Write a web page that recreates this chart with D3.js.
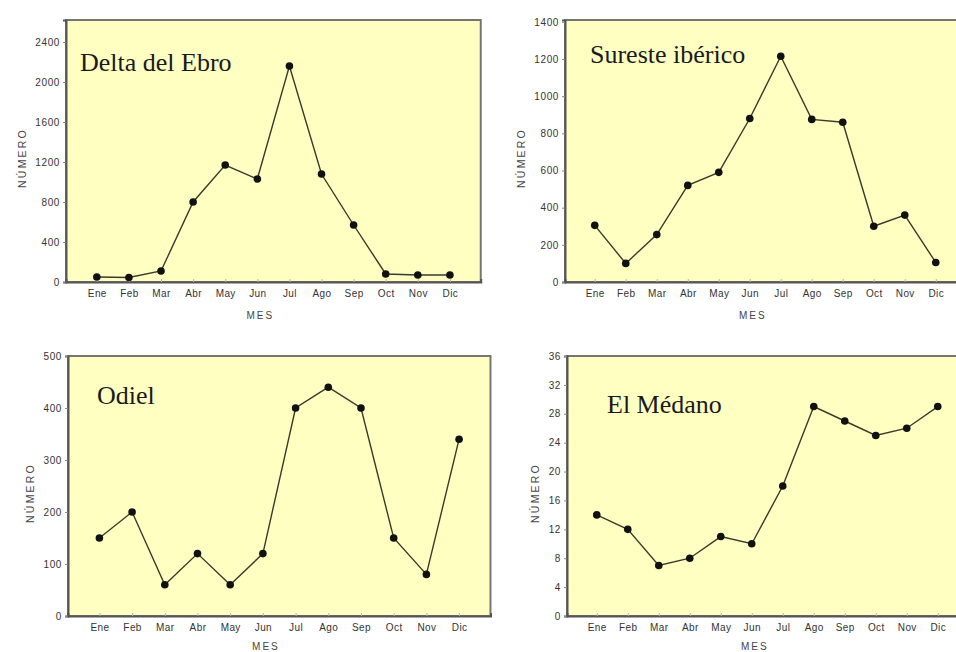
<!DOCTYPE html>
<html>
<head>
<meta charset="utf-8">
<script src="https://cdn.jsdelivr.net/npm/d3@7"></script>
<style>
  body { margin: 0; background: #fff; }
  svg { display: block; }
</style>
</head>
<body>
<script>
// DATA
var months = ["Ene", "Feb", "Mar", "Abr", "May", "Jun", "Jul", "Ago", "Sep", "Oct", "Nov", "Dic"];
var deltaEbro = [50, 45, 110, 800, 1170, 1030, 2160, 1080, 570, 80, 70, 70];
var suresteIberico = [305, 100, 255, 520, 590, 880, 1215, 875, 860, 300, 360, 105];
var odiel = [150, 200, 60, 120, 60, 120, 400, 440, 400, 150, 80, 340];
var elMedano = [14, 12, 7, 8, 11, 10, 18, 29, 27, 25, 26, 29];

var ticksEbro = [0, 400, 800, 1200, 1600, 2000, 2400];
var ticksSureste = [0, 200, 400, 600, 800, 1000, 1200, 1400];
var ticksOdiel = [0, 100, 200, 300, 400, 500];
var ticksMedano = [0, 4, 8, 12, 16, 20, 24, 28, 32, 36];

var titles = ["Delta del Ebro", "Sureste ibérico", "Odiel", "El Médano"];
var xLabel = "MES";
var yLabel = "NÚMERO";

// LAYOUT (positions of each panel on the page)
var width = 956, height = 652;
var pad = 0.96;
var panels = [
  { title: titles[0], values: deltaEbro, ticks: ticksEbro, yMax: 2620, left: 66, top: 20, bottom: 282, step: 32.1, tx: 80, ty: 71 },
  { title: titles[1], values: suresteIberico, ticks: ticksSureste, yMax: 1410, left: 565, top: 20, bottom: 282, step: 31, tx: 590, ty: 63 },
  { title: titles[2], values: odiel, ticks: ticksOdiel, yMax: 500, left: 68, top: 356, bottom: 616, step: 32.7, tx: 97, ty: 404 },
  { title: titles[3], values: elMedano, ticks: ticksMedano, yMax: 36, left: 567, top: 356, bottom: 616, step: 31, tx: 607, ty: 413 }
];

var svg = d3.select("body").append("svg")
  .attr("width", width)
  .attr("height", height);

panels.forEach(function(p) {
  var right = p.left + p.step * (months.length - 1 + 2 * pad);

  var x = d3.scalePoint()
    .domain(months)
    .range([p.left, right])
    .padding(pad);

  var y = d3.scaleLinear()
    .domain([0, p.yMax])
    .range([p.bottom, p.top]);

  var g = svg.append("g");

  // plot background + frame
  g.append("rect")
    .attr("x", p.left)
    .attr("y", p.top)
    .attr("width", right - p.left)
    .attr("height", p.bottom - p.top)
    .attr("fill", "#ffffc2")
    .attr("stroke", "#757575")
    .attr("stroke-width", 2);

  // y axis
  var yAxis = g.append("g")
    .attr("transform", "translate(" + p.left + ",0)")
    .call(d3.axisLeft(y).tickValues(p.ticks).tickSize(3).tickPadding(3).tickFormat(d3.format("d")));
  yAxis.select(".domain").attr("stroke", "#555").attr("stroke-width", 2);
  yAxis.selectAll(".tick line").attr("stroke", "#888");
  yAxis.selectAll(".tick text")
    .attr("fill", "#333")
    .style("font-family", "Arial, 'Liberation Sans', sans-serif")
    .style("font-size", "10px")
    .style("letter-spacing", "0.6px");

  // x axis
  var xAxis = g.append("g")
    .attr("transform", "translate(0," + p.bottom + ")")
    .call(d3.axisBottom(x).tickSize(-3).tickPadding(8));
  xAxis.select(".domain").attr("stroke", "#555").attr("stroke-width", 2);
  xAxis.selectAll(".tick line").attr("stroke", "#b8b890");
  xAxis.selectAll(".tick text")
    .attr("fill", "#333")
    .style("font-family", "Arial, 'Liberation Sans', sans-serif")
    .style("font-size", "10px")
    .style("letter-spacing", "0.4px");

  // axis titles
  g.append("text")
    .attr("x", x("Jun") + 3)
    .attr("y", Math.min(p.bottom + 37, height - 2))
    .attr("text-anchor", "middle")
    .attr("fill", "#444")
    .style("font-family", "Arial, 'Liberation Sans', sans-serif")
    .style("font-size", "10px")
    .style("letter-spacing", "2px")
    .text(xLabel);

  var tb = yAxis.node().getBBox();
  var nx = tb.x + p.left - 13;
  var ny = (p.top + p.bottom) / 2 + 7;
  g.append("text")
    .attr("transform", "translate(" + nx + "," + ny + ") rotate(-90)")
    .attr("text-anchor", "middle")
    .attr("dy", "0.35em")
    .attr("fill", "#444")
    .style("font-family", "Arial, 'Liberation Sans', sans-serif")
    .style("font-size", "10.5px")
    .style("letter-spacing", "2.2px")
    .text(yLabel);

  // line
  var line = d3.line()
    .x(function(d, i) { return x(months[i]); })
    .y(function(d) { return y(d); });

  g.append("path")
    .datum(p.values)
    .attr("d", line)
    .attr("fill", "none")
    .attr("stroke", "#3a3a2a")
    .attr("stroke-width", 1.4);

  g.selectAll("circle")
    .data(p.values)
    .enter()
    .append("circle")
    .attr("cx", function(d, i) { return x(months[i]); })
    .attr("cy", function(d) { return y(d); })
    .attr("r", 3.8)
    .attr("fill", "#111");

  // panel title
  g.append("text")
    .attr("x", p.tx)
    .attr("y", p.ty)
    .attr("fill", "#1a1a1a")
    .style("font-family", "'Liberation Serif', 'Times New Roman', serif")
    .style("font-size", "26px")
    .text(p.title);
});
</script>
</body>
</html>
